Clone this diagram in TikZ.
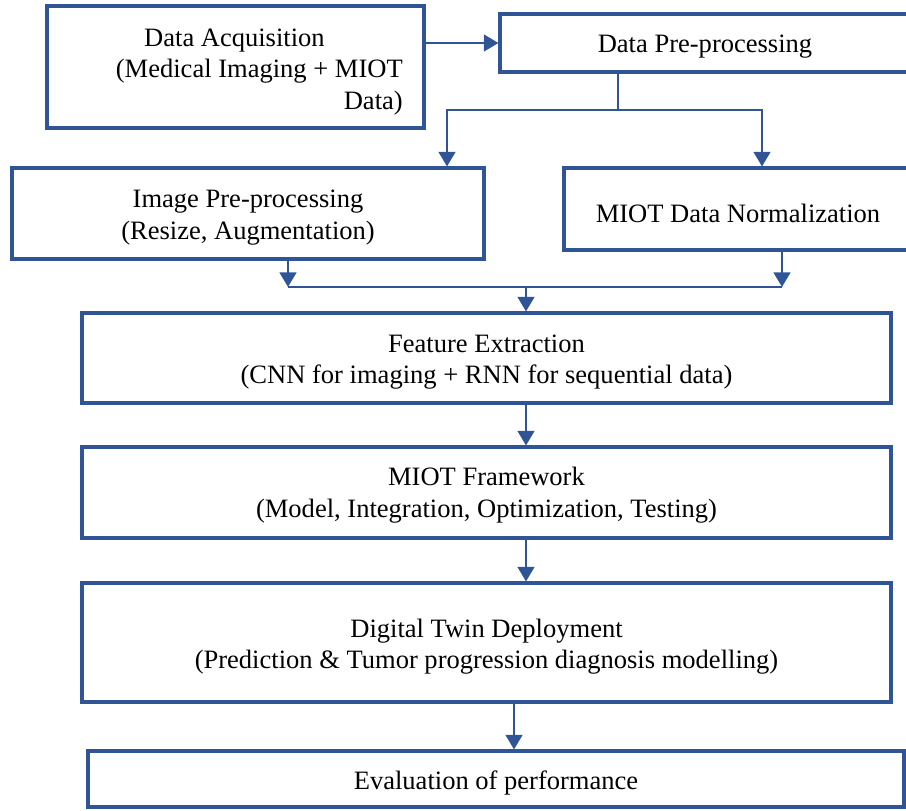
\documentclass[tikz,border=0pt]{standalone}
\usepackage{fontspec}
\setmainfont{Liberation Serif}
\usetikzlibrary{arrows.meta}
\definecolor{flowblue}{RGB}{47,85,151}
\begin{document}
\begin{tikzpicture}[x=0.75pt,y=-0.75pt,
  box/.style 2 args={draw=flowblue,line width=2.3pt,inner sep=0pt,
    minimum width=#1,minimum height=#2},
  lbl/.style={inner sep=0pt,align=center,font=\fontsize{19.9}{23.6}\selectfont},
  conn/.style={draw=flowblue,line width=2pt},
  arr/.style={conn,-{Triangle[length=11pt,width=12.5pt]}}]
\useasboundingbox (0,0) rectangle (906,810);
% boxes
\node[box={282.75pt}{91.5pt}] (DA) at (235.5,67) {};
\node[box={307.5pt}{43.5pt}] (DP) at (705,43) {};
\node[box={354pt}{68.25pt}] (IP) at (248,213.5) {};
\node[box={261pt}{61.5pt}] (MDN) at (738,209) {};
\node[box={606.75pt}{67.5pt}] (FE) at (486.5,358) {};
\node[box={606.75pt}{68.25pt}] (MF) at (486.5,492.5) {};
\node[box={606.75pt}{89.25pt}] (DT) at (486.5,642.5) {};
\node[box={612pt}{42pt}] (EV) at (496,779) {};
% texts
\node[lbl,align=right,anchor=east] (DAt) at (403,72) {Data Acquisition\hspace*{58.5pt}\\(Medical Imaging + MIOT\\Data)};
\node[lbl] (DPt) at ([yshift=-3pt]DP.center) {Data Pre-processing};
\node[lbl] (IPt) at ([yshift=-3pt]IP.center) {Image Pre-processing\\(Resize, Augmentation)};
\node[lbl] (MDNt) at ([yshift=-3pt]MDN.center) {MIOT Data Normalization};
\node[lbl] (FEt) at ([yshift=-3pt]FE.center) {Feature Extraction\\(CNN for imaging + RNN for sequential data)};
\node[lbl] (MFt) at ([yshift=-2pt]MF.center) {MIOT Framework\\(Model, Integration, Optimization, Testing)};
\node[lbl] (DTt) at ([yshift=-3pt]DT.center) {Digital Twin Deployment\\(Prediction \& Tumor progression diagnosis modelling)};
\node[lbl] (EVt) at ([yshift=-3pt]EV.center) {Evaluation of performance};
% junction coordinates
\coordinate (s1) at (618,110);
\coordinate (sL) at (447,110);
\coordinate (sR) at (762,110);
\coordinate (mL) at (288,287);
\coordinate (mR) at (782,287);
\coordinate (m) at (526,287);
\coordinate (e) at (514,0);
% connectors
\draw[arr] (DA.east |- DP.west) -- (DP.west);
\draw[conn] (s1 |- DP.south) -- (s1);
\draw[arr] (s1) -| (sL |- IP.north);
\draw[arr] (s1) -| (sR |- MDN.north);
\draw[arr] (mL |- IP.south) -- (mL);
\draw[arr] (mR |- MDN.south) -- (mR);
\draw[conn] (mL) -- (mR);
\draw[arr] (m) -- (m |- FE.north);
\draw[arr] (m |- FE.south) -- (m |- MF.north);
\draw[arr] (m |- MF.south) -- (m |- DT.north);
\draw[arr] (e |- DT.south) -- (e |- EV.north);
\end{tikzpicture}
\end{document}
